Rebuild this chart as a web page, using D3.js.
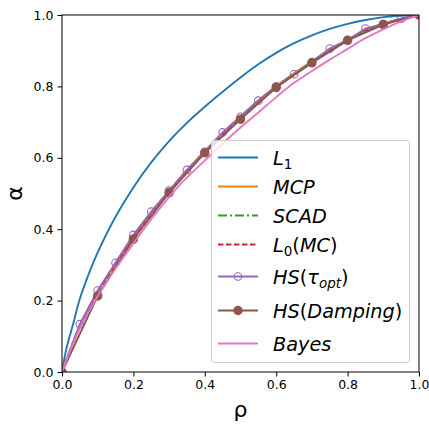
<!DOCTYPE html>
<html>
<head>
<meta charset="utf-8">
<script src="https://cdn.jsdelivr.net/npm/d3@7"></script>
<style>
  body { margin: 0; background: #fff; }
  text { font-family: "DejaVu Sans", sans-serif; }
</style>
</head>
<body>
<div id="chart"></div>
<script>
// values
const rhoL1 = [0, 0.01, 0.02, 0.03, 0.05, 0.075, 0.1, 0.15, 0.2, 0.25, 0.3, 0.35, 0.4, 0.45, 0.5, 0.55, 0.6, 0.65, 0.7, 0.75, 0.8, 0.85, 0.9, 0.95, 1.0];
const alphaL1 = [0, 0.055, 0.095, 0.13, 0.205, 0.275, 0.335, 0.435, 0.517, 0.587, 0.647, 0.698, 0.743, 0.785, 0.825, 0.862, 0.894, 0.921, 0.943, 0.961, 0.975, 0.986, 0.994, 0.998, 1.0];

const rho = [0, 0.05, 0.1, 0.15, 0.2, 0.25, 0.3, 0.35, 0.4, 0.45, 0.5, 0.55, 0.6, 0.65, 0.7, 0.75, 0.8, 0.85, 0.9, 0.95, 1.0];
const alphaMCP = [0, 0.13, 0.225, 0.305, 0.38, 0.447, 0.507, 0.566, 0.619, 0.67, 0.716, 0.761, 0.801, 0.837, 0.87, 0.904, 0.931, 0.958, 0.976, 0.99, 1.0];
const alphaSCAD = [0, 0.13, 0.224, 0.304, 0.379, 0.446, 0.506, 0.565, 0.617, 0.668, 0.714, 0.759, 0.8, 0.835, 0.869, 0.903, 0.93, 0.957, 0.975, 0.99, 1.0];
const alphaL0 = [0, 0.125, 0.218, 0.298, 0.374, 0.44, 0.503, 0.56, 0.614, 0.664, 0.709, 0.755, 0.797, 0.832, 0.866, 0.9, 0.929, 0.955, 0.973, 0.989, 1.0];
const alphaHSopt = [0, 0.134, 0.228, 0.306, 0.384, 0.449, 0.508, 0.566, 0.617, 0.671, 0.715, 0.76, 0.8, 0.834, 0.868, 0.906, 0.93, 0.962, 0.975, 0.99, 1.0];
const alphaBayes = [0, 0.122, 0.213, 0.29, 0.36, 0.428, 0.49, 0.545, 0.592, 0.64, 0.685, 0.727, 0.77, 0.81, 0.843, 0.875, 0.905, 0.935, 0.96, 0.982, 1.0];

const rhoDamp = [0, 0.1, 0.2, 0.3, 0.4, 0.5, 0.6, 0.7, 0.8, 0.9, 1.0];
const alphaDamp = [0, 0.213, 0.372, 0.502, 0.614, 0.708, 0.797, 0.866, 0.929, 0.973, 1.0];

const ticks = [0, 0.2, 0.4, 0.6, 0.8, 1.0];

const width = 429;
const height = 424;
const plotLeft = 62, plotRight = 419, plotTop = 15, plotBottom = 372;

const svg = d3.select('#chart').append('svg')
  .attr('width', width)
  .attr('height', height);

const x = d3.scaleLinear().domain([0, 1]).range([plotLeft, plotRight]);
const y = d3.scaleLinear().domain([0, 1]).range([plotBottom, plotTop]);

svg.append('clipPath').attr('id', 'clip')
  .append('rect')
  .attr('x', plotLeft).attr('y', plotTop)
  .attr('width', plotRight - plotLeft).attr('height', plotBottom - plotTop);

const plot = svg.append('g').attr('clip-path', 'url(#clip)');

function series(xs, ys) {
  return xs.map((r, i) => [r, ys[i]]);
}

const smooth = d3.line().x(d => x(d[0])).y(d => y(d[1])).curve(d3.curveCatmullRom.alpha(0.5));
const straight = d3.line().x(d => x(d[0])).y(d => y(d[1]));

const lines = [
  { name: 'L1', data: series(rhoL1, alphaL1), color: '#1f77b4', gen: smooth },
  { name: 'MCP', data: series(rho, alphaMCP), color: '#ff7f0e', gen: smooth },
  { name: 'SCAD', data: series(rho, alphaSCAD), color: '#2ca02c', gen: smooth, dash: '9,3,2,3' },
  { name: 'L0', data: series(rho, alphaL0), color: '#d62728', gen: smooth, dash: '5.5,2.5' },
  { name: 'HSopt', data: series(rho, alphaHSopt), color: '#9467bd', gen: straight, marker: 'open' },
  { name: 'HSdamp', data: series(rhoDamp, alphaDamp), color: '#8c564b', gen: straight, marker: 'filled' },
  { name: 'Bayes', data: series(rho, alphaBayes), color: '#e377c2', gen: smooth }
];

lines.forEach(s => {
  plot.append('path')
    .attr('d', s.gen(s.data))
    .attr('fill', 'none')
    .attr('stroke', s.color)
    .attr('stroke-width', 1.9)
    .attr('stroke-dasharray', s.dash || null);
  if (s.marker) {
    plot.selectAll(null)
      .data(s.data.filter(d => s.marker === 'filled' || d[0] > 0))
      .enter()
      .append('circle')
      .attr('cx', d => x(d[0]))
      .attr('cy', d => y(d[1]))
      .attr('r', s.marker === 'filled' ? 4.2 : 3.8)
      .attr('fill', s.marker === 'filled' ? s.color : 'none')
      .attr('stroke', s.color)
      .attr('stroke-width', 1.1);
  }
});

// axes
const axisX = d3.axisBottom(x).tickValues(ticks).tickFormat(d3.format('.1f')).tickSizeOuter(0).tickSize(4.5).tickPadding(4);
const axisY = d3.axisLeft(y).tickValues(ticks).tickFormat(d3.format('.1f')).tickSizeOuter(0).tickSize(4.5).tickPadding(4);

const gx = svg.append('g').attr('transform', `translate(0, ${plotBottom})`).call(axisX);
const gy = svg.append('g').attr('transform', `translate(${plotLeft}, 0)`).call(axisY);
[gx, gy].forEach(g => {
  g.select('.domain').remove();
  g.selectAll('text').attr('font-size', 12.5).attr('fill', '#000').attr('font-family', 'DejaVu Sans');
  g.selectAll('line').attr('stroke', '#000').attr('stroke-width', 1);
});

// frame
svg.append('rect')
  .attr('x', plotLeft).attr('y', plotTop)
  .attr('width', plotRight - plotLeft).attr('height', plotBottom - plotTop)
  .attr('fill', 'none')
  .attr('stroke', '#000')
  .attr('stroke-width', 1);

svg.append('text')
  .attr('x', (plotLeft + plotRight) / 2)
  .attr('y', 417)
  .attr('text-anchor', 'middle')
  .attr('font-size', 22)
  .text('ρ');

svg.append('text')
  .attr('transform', `translate(22, ${(plotTop + plotBottom) / 2}) rotate(-90)`)
  .attr('text-anchor', 'middle')
  .attr('font-size', 22)
  .text('α');

// legend
const legend = svg.append('g');
legend.append('rect')
  .attr('x', 211.5).attr('y', 140.5)
  .attr('width', 198).attr('height', 222)
  .attr('rx', 3)
  .attr('fill', 'rgba(255,255,255,0.8)')
  .attr('stroke', '#cccccc')
  .attr('stroke-width', 1);

const labels = [
  [{ t: 'L', i: true }, { t: '1', sub: true }],
  [{ t: 'MCP', i: true }],
  [{ t: 'SCAD', i: true }],
  [{ t: 'L', i: true }, { t: '0', sub: true }, { t: '(' }, { t: 'MC', i: true }, { t: ')' }],
  [{ t: 'HS', i: true }, { t: '(' }, { t: 'τ', i: true }, { t: 'opt', i: true, sub: true }, { t: ')' }],
  [{ t: 'HS', i: true }, { t: '(' }, { t: 'Damping', i: true }, { t: ')' }],
  [{ t: 'Bayes', i: true }]
];
const rowY = [157.5, 186.5, 215.5, 244.5, 276.5, 310.5, 343.5];

lines.forEach((s, k) => {
  const yy = rowY[k];
  legend.append('line')
    .attr('x1', 218).attr('x2', 258)
    .attr('y1', yy).attr('y2', yy)
    .attr('stroke', s.color)
    .attr('stroke-width', 1.9)
    .attr('stroke-dasharray', s.dash || null);
  if (s.marker) {
    legend.append('circle')
      .attr('cx', 238).attr('cy', yy)
      .attr('r', s.marker === 'filled' ? 4.2 : 3.8)
      .attr('fill', s.marker === 'filled' ? s.color : 'none')
      .attr('stroke', s.color)
      .attr('stroke-width', 1.1);
  }
  const txt = legend.append('text')
    .attr('x', 273)
    .attr('y', yy + 7)
    .attr('font-size', 19.3)
    .attr('fill', '#000');
  const parts = labels[k];
  parts.forEach((p, i) => {
    const prev = i > 0 ? parts[i - 1] : null;
    let dy = 0;
    if (p.sub && !(prev && prev.sub)) dy = 4;
    if (!p.sub && prev && prev.sub) dy = -4;
    const sp = txt.append('tspan')
      .text(p.t)
      .attr('dy', dy)
      .attr('font-style', p.i ? 'italic' : 'normal');
    if (p.sub) sp.attr('font-size', 13.5);
  });
});
</script>
</body>
</html>
